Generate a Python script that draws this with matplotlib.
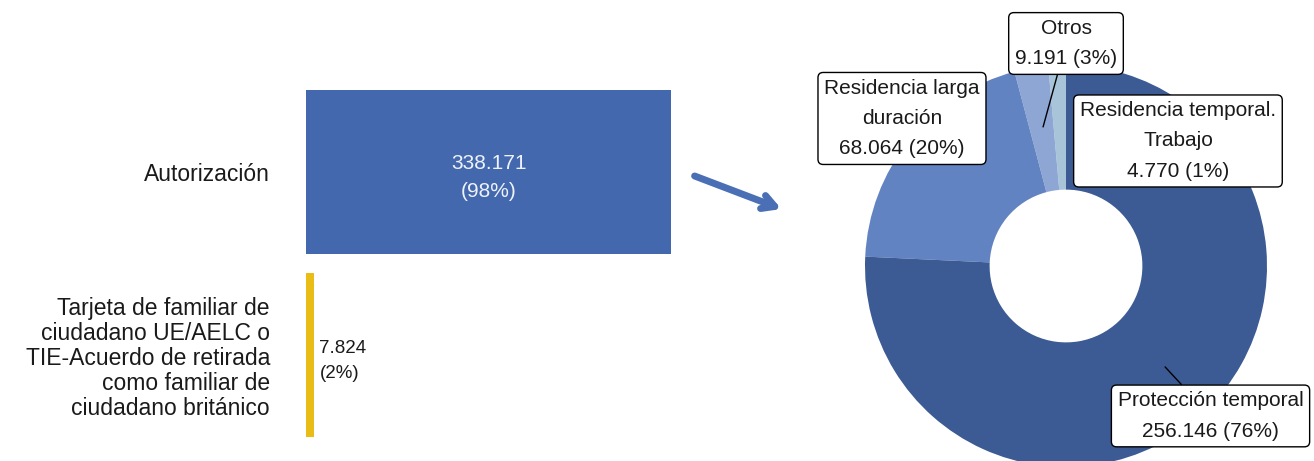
import matplotlib
matplotlib.use("Agg")
from matplotlib import pyplot as plt

plt.rcParams['font.family'] = ['Liberation Sans', 'DejaVu Sans']

# left: type of document
bar_labels = ["Autorización",
              "Tarjeta de familiar de\nciudadano UE/AELC o\nTIE-Acuerdo de retirada\ncomo familiar de\nciudadano británico"]
bar_values = [338171, 7824]
bar_colors = ['#4468ad', '#e9bd15']

# right: breakdown of "Autorización"
pie_labels = ["Residencia temporal.\nTrabajo", "Otros", "Residencia larga\nduración", "Protección temporal"]
pie_values = [4770, 9191, 68064, 256146]
pie_colors = ['#a8c4d8', '#8da6d3', '#6283c2', '#3c5b94']


def fmt(v):
    return f"{v:,}".replace(",", ".")


W, H = 1314, 461
fig = plt.figure(figsize=(W / 100, H / 100), dpi=100)

# ---- bar chart
ax1 = fig.add_axes([306 / W, 1 - 450 / H, 384 / W, 370 / H])
pos = list(range(len(bar_values)))
ax1.barh(pos, bar_values, height=0.9, color=bar_colors)
ax1.set_xlim(0, bar_values[0] * 384 / 365)
ax1.set_ylim(1.519, -0.503)
ax1.set_yticks(pos)
ax1.set_yticklabels(bar_labels, fontsize=16.5, color='#1a1a1a', linespacing=1.12)
ax1.tick_params(axis='y', length=0, pad=26)
ax1.set_xticks([])
for s in ax1.spines.values():
    s.set_visible(False)

tot = sum(bar_values)
ax1.text(bar_values[0] / 2, pos[0] + 0.03,
         f"{fmt(bar_values[0])}\n({round(bar_values[0] / tot * 100)}%)",
         ha='center', va='center', color='#eef3fb', fontsize=15, linespacing=1.6)
ax1.annotate(f"{fmt(bar_values[1])}\n({round(bar_values[1] / tot * 100)}%)",
             xy=(bar_values[1], pos[1]), xytext=(5, -6), textcoords='offset pixels',
             ha='left', va='center', color='#1a1a1a', fontsize=13.5, linespacing=1.55)

# arrow between the two charts
fig.add_artist(matplotlib.patches.FancyArrowPatch(
    (692 / W, 1 - 175 / H), (784 / W, 1 - 210 / H), transform=fig.transFigure,
    arrowstyle='->,head_length=9,head_width=5', color='#4a6fb5', lw=5))

# ---- donut
R = 201
cx, cy = 1066, 266
ax2 = fig.add_axes([(cx - R) / W, (H - cy - R) / H, 2 * R / W, 2 * R / H])
ax2.pie(pie_values, colors=pie_colors, startangle=90, counterclock=True,
        radius=1, wedgeprops=dict(width=0.62, linewidth=0))
ax2.set_xlim(-1, 1)
ax2.set_ylim(-1, 1)
ax2.set_aspect('equal')
ax2.axis('off')

ptot = sum(pie_values)
# box centre and leader target (data units of the donut, radius 1)
box_xy = [(0.557, 0.622), (0.0, 1.107), (-0.816, 0.734), (0.719, -0.746)]
leader = [None, (-0.114, 0.692), None, (0.493, -0.502)]
for lab, v, bxy, tgt in zip(pie_labels, pie_values, box_xy, leader):
    txt = f"{lab}\n{fmt(v)} ({round(v / ptot * 100)}%)"
    bbox = dict(boxstyle='round,pad=0.3,rounding_size=0.25', fc='white', ec='black', lw=1)
    if tgt is None:
        ax2.text(bxy[0], bxy[1], txt, ha='center', va='center', fontsize=15,
                 color='#1a1a1a', linespacing=1.75, bbox=bbox)
    else:
        ax2.annotate(txt, xy=tgt, xytext=bxy, ha='center', va='center', fontsize=15,
                     color='#1a1a1a', linespacing=1.75, bbox=bbox, annotation_clip=False,
                     arrowprops=dict(arrowstyle='-', color='black', lw=1, shrinkA=0, shrinkB=0))

plt.savefig("out.png", dpi=100)
